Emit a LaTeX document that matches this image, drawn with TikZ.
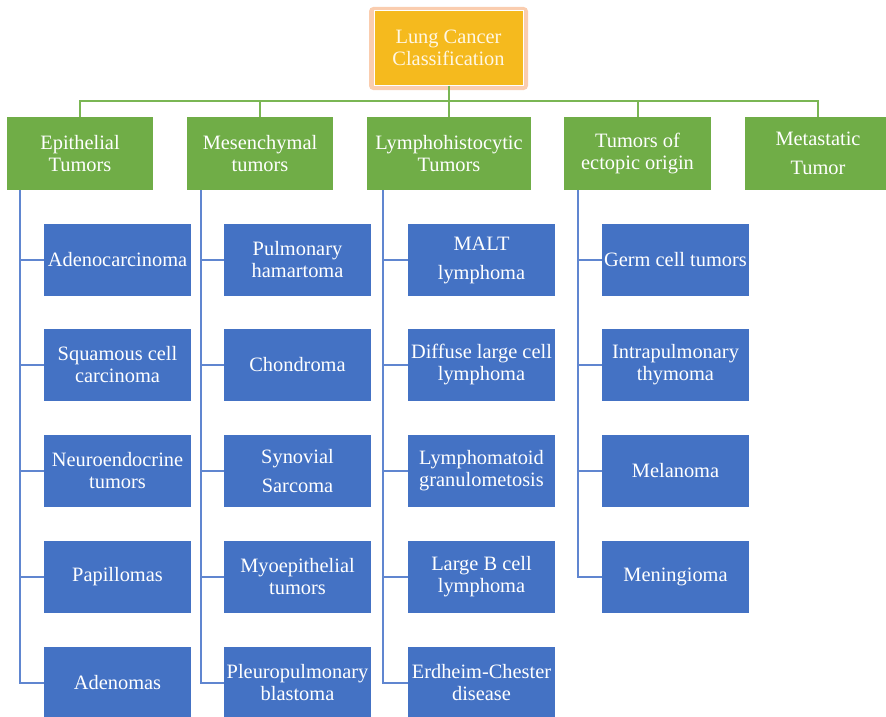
\documentclass[tikz,border=0pt]{standalone}
\usepackage{fontspec}
\setmainfont{Liberation Serif}
\definecolor{gr}{RGB}{112,173,71}
\definecolor{grl}{RGB}{122,182,84}
\definecolor{bl}{RGB}{68,114,196}
\definecolor{bline}{RGB}{96,134,208}
\definecolor{og}{RGB}{245,186,30}
\definecolor{peach}{RGB}{250,205,175}
\definecolor{cream}{RGB}{255,247,228}
\tikzset{
  box/.style={rectangle, inner sep=0pt, text=white, align=center,
    font=\fontsize{20.4}{22}\selectfont, minimum height=72pt, minimum width=147pt},
  wide/.style={font=\fontsize{20.4}{29}\selectfont},
  gbox/.style={box, fill=gr, minimum height=73pt, minimum width=146pt},
  bbox/.style={box, fill=bl},
  gline/.style={draw=grl, line width=2pt},
  bcon/.style={draw=bline, line width=2pt},
}
\begin{document}
\begin{tikzpicture}[x=1pt,y=-1pt]
\useasboundingbox (0,0) rectangle (886,717);
\clip (0,0) rectangle (886,717);
% root
\node[rectangle, fill=peach, draw=peach, line width=3pt, rounded corners=3pt,
  minimum width=156pt, minimum height=80pt, inner sep=0pt] (glow) at (448.5,48.5) {};
\node[box, fill=og, draw=white, line width=1pt, text=cream, minimum width=149pt,
  minimum height=74pt] (root) at (448.5,48) {Lung Cancer\\Classification};
% level 1
\node[gbox] (g1) at (80,153.5) {Epithelial\\Tumors};
\node[gbox] (g2) at (260,153.5) {Mesenchymal\\tumors};
\node[gbox, minimum width=164pt] (g3) at (449,153.5) {Lymphohistocytic\\Tumors};
\node[gbox, minimum width=147pt] (g4) at (637.5,153.5) {Tumors of\\ectopic origin};
\node[gbox, wide] (g5) at (818,153.5) {Metastatic\\Tumor};
% bus
\coordinate (bus) at (448.5,101);
\draw[gline] (root.south) -- (bus);
\draw[gline] (g1.north) -- (g1.north |- bus) -- (g5.north |- bus) -- (g5.north);
\draw[gline] (g2.north) -- (g2.north |- bus);
\draw[gline] (g3.north) -- (g3.north |- bus);
\draw[gline] (g4.north) -- (g4.north |- bus);
% column 1
\node[bbox] (a1) at (117.5,260) {Adenocarcinoma};
\node[bbox] (a2) at (117.5,365) {Squamous cell\\carcinoma};
\node[bbox] (a3) at (117.5,471) {Neuroendocrine\\tumors};
\node[bbox] (a4) at (117.5,577) {Papillomas};
\node[bbox] (a5) at (117.5,683) {Adenomas};
% column 2
\node[bbox] (b1) at (297.5,260) {Pulmonary\\hamartoma};
\node[bbox] (b2) at (297.5,365) {Chondroma};
\node[bbox, wide] (b3) at (297.5,471) {Synovial\\Sarcoma};
\node[bbox] (b4) at (297.5,577) {Myoepithelial\\tumors};
\node[bbox] (b5) at (297.5,683) {Pleuropulmonary\\blastoma};
% column 3
\node[bbox, wide] (c1) at (481.5,260) {MALT\\lymphoma};
\node[bbox] (c2) at (481.5,365) {Diffuse large cell\\lymphoma};
\node[bbox] (c3) at (481.5,471) {Lymphomatoid\\granulometosis};
\node[bbox] (c4) at (481.5,577) {Large B cell\\lymphoma};
\node[bbox] (c5) at (481.5,683) {Erdheim-Chester\\disease};
% column 4
\node[bbox] (d1) at (675.5,260) {Germ cell tumors};
\node[bbox] (d2) at (675.5,365) {Intrapulmonary\\thymoma};
\node[bbox] (d3) at (675.5,471) {Melanoma};
\node[bbox] (d4) at (675.5,577) {Meningioma};
% vertical connectors
\coordinate (v1) at (20,190);
\coordinate (v2) at (200.5,190);
\coordinate (v3) at (383,190);
\coordinate (v4) at (578,190);
\foreach \n in {a1,a2,a3,a4,a5} \draw[bcon] (v1) |- (\n.west);
\foreach \n in {b1,b2,b3,b4,b5} \draw[bcon] (v2) |- (\n.west);
\foreach \n in {c1,c2,c3,c4,c5} \draw[bcon] (v3) |- (\n.west);
\foreach \n in {d1,d2,d3,d4} \draw[bcon] (v4) |- (\n.west);
\end{tikzpicture}
\end{document}
